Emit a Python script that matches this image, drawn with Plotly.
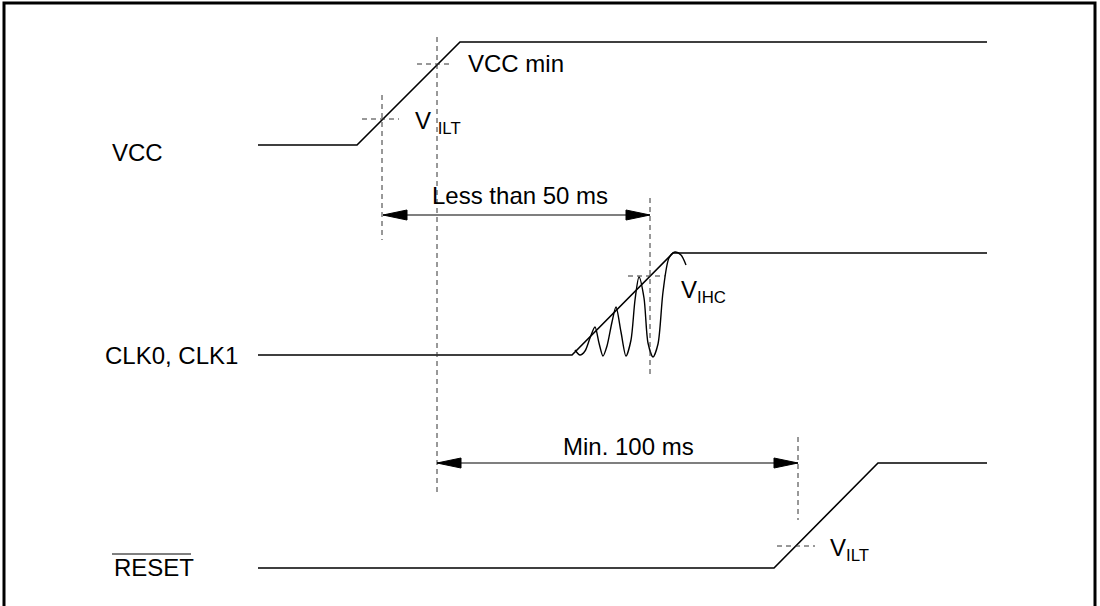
import plotly.graph_objects as go

# canvas is laid out in pixels: x 0..1100, y 0..606 (top down)
W, H = 1100, 606

# signal waveforms (vertices)
vcc_x = [258, 357, 460, 987]
vcc_y = [145, 145, 42, 42]
clk_x = [258, 572, 673, 987]
clk_y = [355, 355, 253, 253]
rst_x = [258, 774, 878, 987]
rst_y = [568, 568, 463, 463]

# ringing on the clock edge
ring_x = [575, 580, 585, 590, 595, 599, 603, 607, 612, 616, 621, 626, 631, 635, 639,
          644, 648, 653, 658, 663, 669, 675, 681, 686]
ring_y = [350, 355, 351, 338, 327, 343, 356, 346, 322, 307, 332, 356, 340, 300, 277,
          298, 343, 357, 344, 292, 258, 252, 255, 265]

# dashed reference markers: (x0, y0, x1, y1)
dashed = [
    (382, 95, 382, 240),
    (437, 37, 437, 495),
    (650, 198, 650, 374),
    (798, 437, 798, 520),
    (362, 119, 399, 119),
    (417, 64, 453, 64),
    (628, 276, 665, 276),
    (777, 546, 815, 546),
]

# timing arrows: (x_start, x_end, y)
arrows = [(383, 650, 215), (437, 798, 463)]

# labels: (text, x, y, xanchor)
labels = [
    ("VCC", 110, 152, "left"),
    ("CLK0, CLK1", 103, 355, "left"),
    ("RESET", 112, 567, "left"),
    ("VCC min", 466, 63, "left"),
    ("V <sub>ILT</sub>", 413, 122, "left"),
    ("Less than 50 ms", 520, 195, "center"),
    ("V<sub>IHC</sub>", 679, 291, "left"),
    ("Min. 100 ms", 628, 446, "center"),
    ("V<sub>ILT</sub>", 828, 549, "left"),
]

fig = go.Figure()

for xs, ys in [(vcc_x, vcc_y), (clk_x, clk_y), (rst_x, rst_y)]:
    fig.add_trace(go.Scatter(x=xs, y=ys, mode="lines",
                             line=dict(color="black", width=1.6)))

fig.add_trace(go.Scatter(x=ring_x, y=ring_y, mode="lines",
                         line=dict(color="black", width=1.4, shape="spline", smoothing=0.8)))

for x0, y0, x1, y1 in dashed:
    fig.add_trace(go.Scatter(x=[x0, x1], y=[y0, y1], mode="lines",
                             line=dict(color="#333", width=1, dash="5px,4px")))

HEAD_L, HEAD_W = 24, 5
for xa, xb, y in arrows:
    fig.add_trace(go.Scatter(x=[xa, xb], y=[y, y], mode="lines",
                             line=dict(color="black", width=1.2)))
    for tip, d in [(xa, 1), (xb, -1)]:
        fig.add_trace(go.Scatter(x=[tip, tip + d * HEAD_L, tip + d * HEAD_L, tip],
                                 y=[y, y - HEAD_W, y + HEAD_W, y],
                                 mode="lines", fill="toself", fillcolor="black",
                                 line=dict(color="black", width=1)))

for text, x, y, xa in labels:
    fig.add_annotation(x=x, y=y, text=text, showarrow=False,
                       xanchor=xa, yanchor="middle",
                       font=dict(size=24, color="black"))

# overline on RESET
fig.add_shape(type="line", x0=112, x1=191, y0=554, y1=554,
              line=dict(color="black", width=1))

# frame
fig.add_shape(type="rect", x0=4, x1=1095, y0=3, y1=640,
              line=dict(color="black", width=3))

fig.update_layout(
    width=W, height=H,
    margin=dict(l=0, r=0, t=0, b=0),
    paper_bgcolor="white", plot_bgcolor="white",
    showlegend=False,
    font=dict(family="Liberation Sans, Arial, sans-serif"),
    xaxis=dict(range=[0, W], visible=False, fixedrange=True),
    yaxis=dict(range=[H, 0], visible=False, fixedrange=True),
)

fig.write_html("out.html", config={"displayModeBar": False},
               post_script="document.body.style.margin='0';document.body.style.overflow='hidden';")
